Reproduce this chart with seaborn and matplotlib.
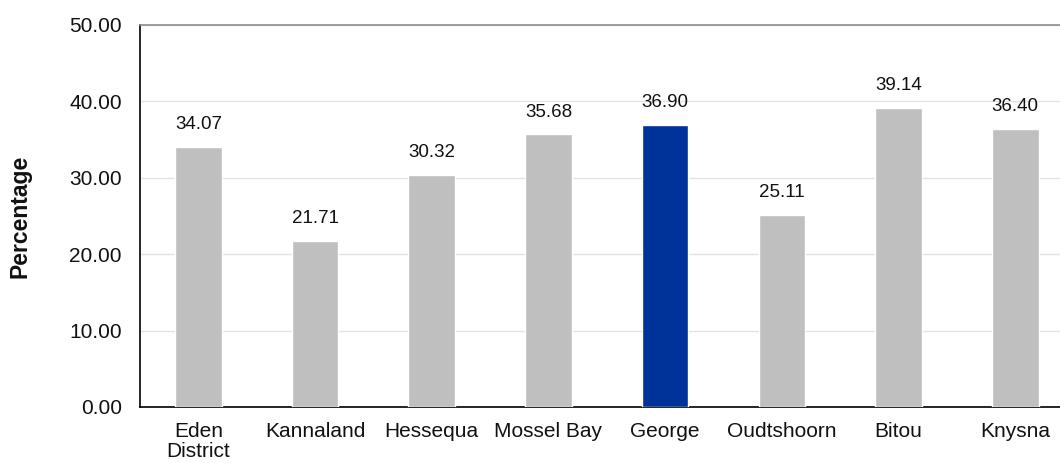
import matplotlib
matplotlib.use("Agg")
import matplotlib.pyplot as plt
import seaborn as sns
import pandas as pd

# chart data
categories = ["Eden\nDistrict", "Kannaland", "Hessequa", "Mossel Bay",
              "George", "Oudtshoorn", "Bitou", "Knysna"]
values = [34.07, 21.71, 30.32, 35.68, 36.90, 25.11, 39.14, 36.40]
highlight = "George"
y_ticks = [0, 10, 20, 30, 40, 50]

GREY = "#BFBFBF"
NAVY = "#003399"

sns.set_theme(style="white")
plt.rcParams["font.family"] = ["Liberation Sans", "DejaVu Sans"]

df = pd.DataFrame({"area": categories, "pct": values})
palette = {c: (NAVY if c == highlight else GREY) for c in categories}

fig = plt.figure(figsize=(10.6, 4.63), dpi=100)
# axes runs a little past the right edge, as in the reference
ax = fig.add_axes([140 / 1060, 56 / 463, 933.6 / 1060, 382 / 463])

sns.barplot(data=df, x="area", y="pct", hue="area", palette=palette,
            legend=False, width=0.4, saturation=1, ax=ax, zorder=3)

for p, v in zip(ax.patches, values):
    ax.annotate(f"{v:.2f}", (p.get_x() + p.get_width() / 2, p.get_height()),
                xytext=(0, 10), textcoords="offset points",
                ha="center", va="bottom", fontsize=13.5, color="#111111")

ax.set_ylim(0, 50)
ax.set_xlim(-0.5, len(categories) - 0.5)
ax.set_yticks(y_ticks)
ax.set_yticklabels([f"{t:.2f}" for t in y_ticks])
ax.yaxis.grid(True, color="#E3E3E3", linewidth=1, zorder=0)
ax.set_axisbelow(True)

ax.tick_params(axis="y", length=0, pad=13, labelsize=15, labelcolor="#111111")
ax.tick_params(axis="x", length=0, pad=11, labelsize=15, labelcolor="#111111")
for lbl in ax.get_xticklabels():
    lbl.set_linespacing(1.05)

ax.set_xlabel("")
ax.set_ylabel("Percentage", fontsize=16.5, fontweight="bold", labelpad=27,
              color="#111111")

for side in ["left", "bottom"]:
    ax.spines[side].set_color("black")
    ax.spines[side].set_linewidth(1.2)
ax.spines["top"].set_color("#8C8C8C")
ax.spines["top"].set_linewidth(1.2)
ax.spines["right"].set_visible(False)

fig.savefig("out.png", dpi=100)
